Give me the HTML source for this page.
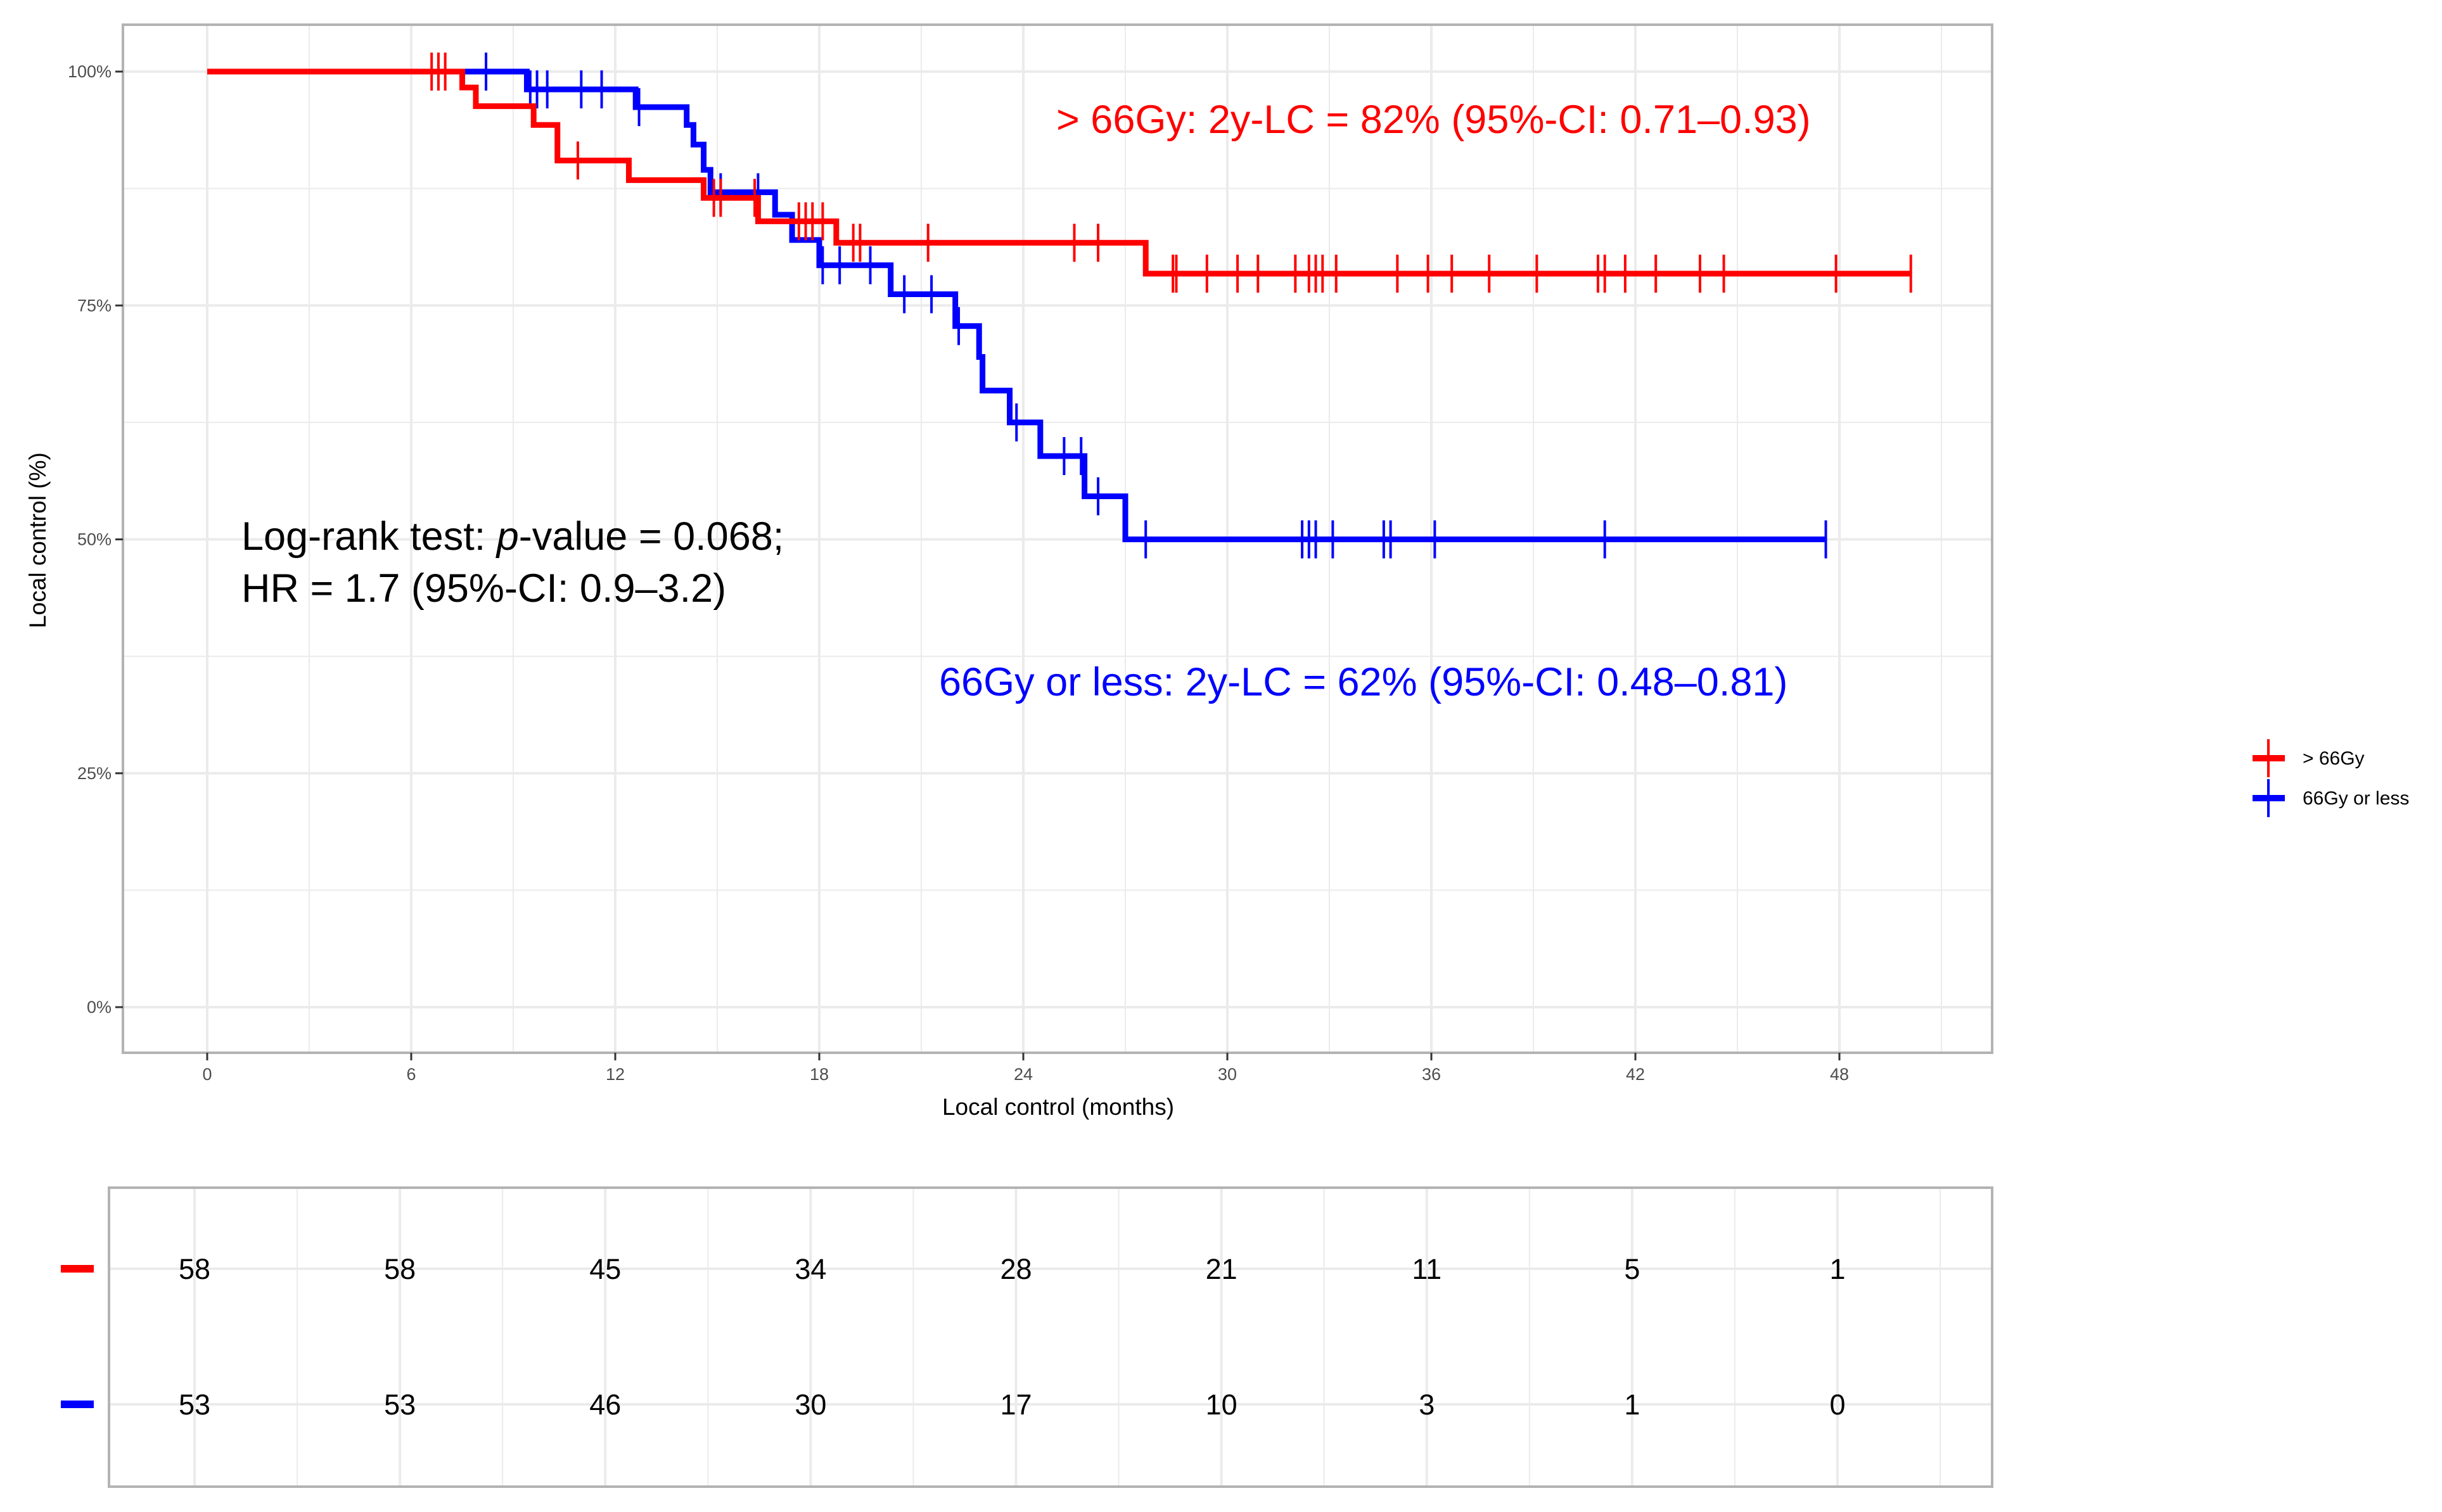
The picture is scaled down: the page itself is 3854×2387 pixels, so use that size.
<!DOCTYPE html>
<html><head><meta charset="utf-8">
<style>
html,body{margin:0;padding:0;background:#fff;}
svg{display:block;font-family:"Liberation Sans",Arial,sans-serif;}
</style></head>
<body>
<svg id="chart" width="3854" height="2387" viewBox="0 0 3854 2387" xmlns="http://www.w3.org/2000/svg">
<g id="grid"></g>
<rect x="194" y="39" width="2950" height="1623" fill="none" stroke="#b3b3b3" stroke-width="4"/>
<g id="axes"></g>
<g id="curves"></g>
<text x="1667" y="210" font-size="63" fill="#ff0000">&gt; 66Gy: 2y-LC = 82% (95%-CI: 0.71–0.93)</text>
<text x="1482" y="1098" font-size="63" fill="#0000ff">66Gy or less: 2y-LC = 62% (95%-CI: 0.48–0.81)</text>
<text x="381" y="868" font-size="63" fill="#000">Log-rank test: <tspan font-style="italic">p</tspan>-value = 0.068;</text>
<text x="381" y="950" font-size="63" fill="#000">HR = 1.7 (95%-CI: 0.9–3.2)</text>
<text x="1670" y="1760" font-size="37" text-anchor="middle" fill="#000">Local control (months)</text>
<text transform="translate(72,853) rotate(-90)" font-size="37" text-anchor="middle" fill="#000">Local control (%)</text>
<g>
<g>
<line x1="3555" y1="1197" x2="3606" y2="1197" stroke="#ff0000" stroke-width="10"/>
<line x1="3580" y1="1167" x2="3580" y2="1227" stroke="#ff0000" stroke-width="4"/>
<text x="3634" y="1207" font-size="30" fill="#000">&gt; 66Gy</text></g>
<g>
<line x1="3555" y1="1260" x2="3606" y2="1260" stroke="#0000ff" stroke-width="10"/>
<line x1="3580" y1="1230" x2="3580" y2="1290" stroke="#0000ff" stroke-width="4"/>
<text x="3634" y="1270" font-size="30" fill="#000">66Gy or less</text></g>
</g>
<g id="table"></g>
</svg>
<script>
const ticksX=[0,6,12,18,24,30,36,42,48];
const ticksY=[0,25,50,75,100];
const riskTimes=[0,6,12,18,24,30,36,42,48];
const riskRed=[58,58,45,34,28,21,11,5,1];
const riskBlue=[53,53,46,30,17,10,3,1,0];
const redStepTimes=[0,7.5,7.9,9.6,10.3,12.4,14.6,16.2,18.5,27.6];
const redStepSurv=[100,98.3,96.3,94.3,90.5,88.4,86.5,84.0,81.7,78.4];
const redEnd=50.1;
const redCensor=[6.6,6.8,7.0,10.9,14.9,15.1,16.1,17.4,17.6,17.8,18.1,19.0,19.2,21.2,25.5,26.2,28.4,28.5,29.4,30.3,30.9,32.0,32.4,32.6,32.8,33.2,35.0,35.9,36.6,37.7,39.1,40.9,41.1,41.7,42.6,43.9,44.6,47.9,50.1];
const blueStepTimes=[0,9.4,12.6,14.1,14.3,14.6,14.8,16.7,17.2,18.0,20.1,22.0,22.7,22.8,23.6,24.5,25.8,27.0];
const blueStepSurv=[100,98.1,96.2,94.3,92.2,89.5,87.1,84.7,82.0,79.3,76.2,72.8,69.5,65.9,62.5,58.9,54.6,50.0];
const blueEnd=47.6;
const blueCensor=[8.2,9.5,9.7,10.0,11.0,11.6,12.7,15.1,16.2,18.1,18.6,19.5,20.5,21.3,22.1,23.8,25.2,25.7,26.2,27.6,32.2,32.4,32.6,33.1,34.6,34.8,36.1,41.1,47.6];

const NS='http://www.w3.org/2000/svg';
const xs=t=>327+t*(2903-327)/48;
const ys=v=>1590-v*(1590-113)/100;
const xt=t=>307+t*(2900-307)/48;
function mk(tag,attrs,parent){const e=document.createElementNS(NS,tag);for(const k in attrs)e.setAttribute(k,attrs[k]);parent.appendChild(e);return e;}
const grid=document.getElementById('grid'),axes=document.getElementById('axes'),curves=document.getElementById('curves'),table=document.getElementById('table');
for(let t=-3;t<=54;t+=3){const x=xs(t);if(x<196||x>3142)continue;const l=mk('line',{x1:x,y1:41,x2:x,y2:1660,stroke:'#ebebeb','stroke-width':(t%6===0)?4:2},grid);

}
for(let v=-12.5;v<=110;v+=12.5){const y=ys(v);if(y<41||y>1660)continue;const l=mk('line',{x1:196,y1:y,x2:3142,y2:y,stroke:'#ebebeb','stroke-width':(v%25===0)?4:2},grid);

}
ticksX.forEach(t=>{const x=xs(t);mk('line',{x1:x,y1:1662,x2:x,y2:1674,stroke:'#333','stroke-width':3},axes);
const tx=mk('text',{x:x,y:1705,'font-size':27,'text-anchor':'middle',fill:'#4d4d4d'},axes);tx.textContent=t;

});
ticksY.forEach(v=>{const y=ys(v);mk('line',{x1:182,y1:y,x2:194,y2:y,stroke:'#333','stroke-width':3},axes);
const tx=mk('text',{x:176,y:y+9,'font-size':27,'text-anchor':'end',fill:'#4d4d4d'},axes);tx.textContent=v+'%';

});
function curve(times,surv,end,cens,color,name){
 let d='M'+xs(times[0])+','+ys(surv[0]);
 for(let i=1;i<times.length;i++){d+=' H'+xs(times[i])+' V'+ys(surv[i]);}
 d+=' H'+xs(end);
 const p=mk('path',{d:d,fill:'none',stroke:color,'stroke-width':9,'stroke-linejoin':'miter'},curves);
 
 
 cens.forEach(t=>{let s=surv[0];for(let i=0;i<times.length;i++){if(times[i]<=t)s=surv[i];}
  const l=mk('line',{x1:xs(t),y1:ys(s)-30,x2:xs(t),y2:ys(s)+30,stroke:color,'stroke-width':4},curves);
  
  });
}
curve(blueStepTimes,blueStepSurv,blueEnd,blueCensor,'#0000ff','blue');
curve(redStepTimes,redStepSurv,redEnd,redCensor,'#ff0000','red');
const tb=mk('rect',{x:172,y:1875,width:2972,height:472,fill:'none',stroke:'#b3b3b3','stroke-width':4},table);


for(let t=-3;t<=57;t+=3){const x=xt(t);if(x<174||x>3142)continue;const l=mk('line',{x1:x,y1:1877,x2:x,y2:2345,stroke:'#ebebeb','stroke-width':(t%6===0)?4:2},table);

}
[2003,2217].forEach(y=>{const l=mk('line',{x1:174,y1:y,x2:3142,y2:y,stroke:'#ebebeb','stroke-width':4},table);

});
[[riskRed,2003,'#ff0000','red'],[riskBlue,2217,'#0000ff','blue']].forEach(([arr,y,c,n])=>{
 const sw=mk('line',{x1:96,y1:y,x2:148,y2:y,stroke:c,'stroke-width':12},table);
 
 
 arr.forEach((v,i)=>{const tx=mk('text',{x:xt(riskTimes[i]),y:y+16,'font-size':45,'text-anchor':'middle',fill:'#000'},table);tx.textContent=v;
 
 });
});
</script>
</body></html>
